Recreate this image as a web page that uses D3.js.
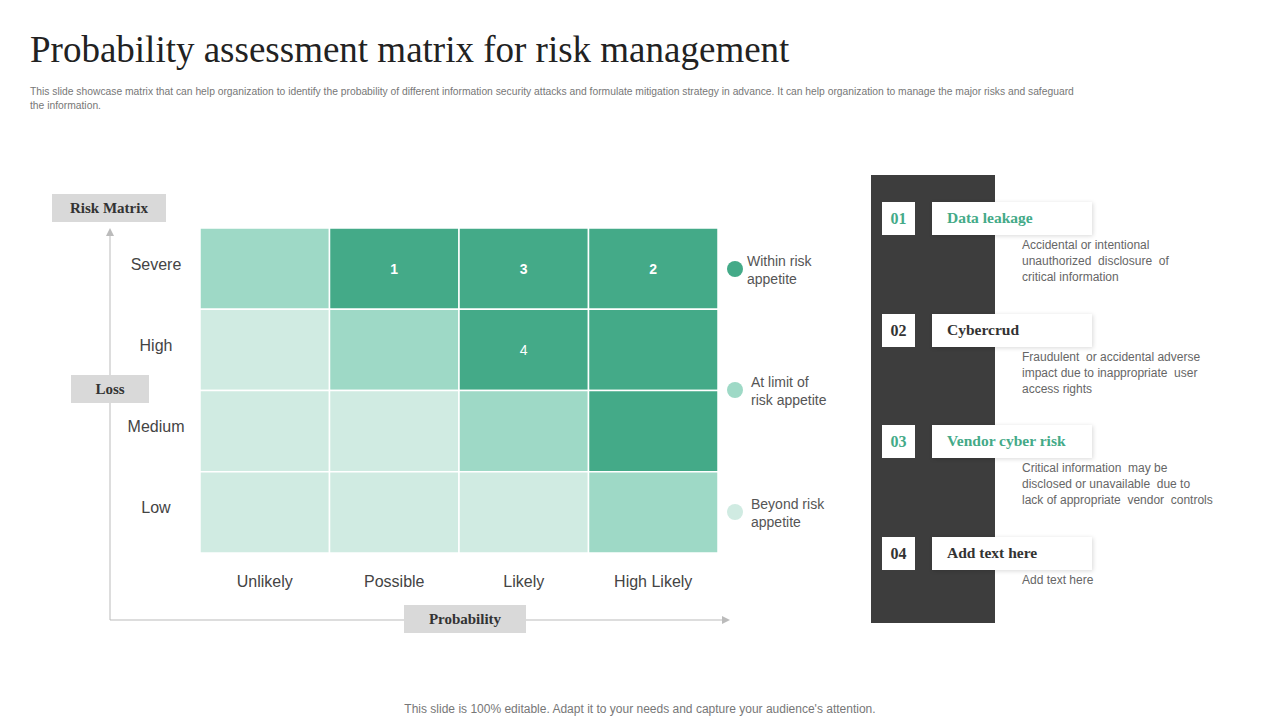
<!DOCTYPE html>
<html><head><meta charset="utf-8">
<script src="https://cdn.jsdelivr.net/npm/d3@7"></script>
<style>body{margin:0;background:#fff}svg{display:block}</style>
</head><body><svg id="c" width="1280" height="720"></svg>
<script>
// data
var probLabels = ["Unlikely", "Possible", "Likely", "High Likely"];
var lossLabels = ["Severe", "High", "Medium", "Low"];
// risk level per cell, rows Severe..Low: 0 beyond, 1 at limit, 2 within
var levels = [[1,2,2,2],[0,1,2,2],[0,0,1,2],[0,0,0,1]];
var cellNums = [["","1","3","2"],["","","4",""],["","","",""],["","","",""]];
var legendLabels = [["Within risk","appetite"],["At limit of","risk appetite"],["Beyond risk","appetite"]];
var itemNums = ["01","02","03","04"];
var itemTitles = ["Data leakage","Cybercrud","Vendor cyber risk","Add text here"];
var itemTexts = [["Accidental or intentional","unauthorized  disclosure  of","critical information"],
  ["Fraudulent  or accidental adverse","impact due to inappropriate  user","access rights"],
  ["Critical information  may be","disclosed or unavailable  due to","lack of appropriate  vendor  controls"],
  ["Add text here"]];

var colors = ["#D0EBE2","#9ED9C6","#44AA88"];
var svg = d3.select("#c");
var serif = "'Liberation Serif','DejaVu Serif',serif", sans = "'Liberation Sans',Arial,sans-serif";

svg.append("text").attr("x",30).attr("y",62).attr("font-family",serif).attr("font-size",37).attr("fill","#222")
  .text("Probability assessment matrix for risk management");
["This slide showcase matrix that can help organization to identify the probability of different information security attacks and formulate mitigation strategy in advance. It can help organization to manage the major risks and safeguard",
 "the information."].forEach(function(t,i){
  svg.append("text").attr("x",30).attr("y",95+i*14).attr("font-family",sans).attr("font-size",10.3).attr("fill","#777").text(t);
});

var x = d3.scaleBand().domain(d3.range(4)).range([200,718]);
var y = d3.scaleBand().domain(d3.range(4)).range([228,553]);

var cells = [];
levels.forEach(function(r,i){ r.forEach(function(v,j){ cells.push({r:i,c:j,v:v,n:cellNums[i][j]}); }); });
svg.selectAll("rect.cell").data(cells).enter().append("rect").attr("class","cell")
  .attr("x",function(d){return x(d.c);}).attr("y",function(d){return y(d.r);})
  .attr("width",x.bandwidth()).attr("height",y.bandwidth())
  .attr("fill",function(d){return colors[d.v];}).attr("stroke","#fff").attr("stroke-width",1.5);
svg.selectAll("text.num").data(cells.filter(function(d){return d.n;})).enter().append("text")
  .attr("x",function(d){return x(d.c)+x.bandwidth()/2;}).attr("y",function(d){return y(d.r)+y.bandwidth()/2+5;})
  .attr("text-anchor","middle").attr("font-family",sans).attr("font-size",14).attr("fill","#fff")
  .attr("font-weight",function(d){return d.r===0?"bold":"normal";}).text(function(d){return d.n;});

svg.selectAll("text.xl").data(probLabels).enter().append("text")
  .attr("x",function(d,i){return x(i)+x.bandwidth()/2;}).attr("y",587).attr("text-anchor","middle")
  .attr("font-family",sans).attr("font-size",16).attr("fill","#444").text(function(d){return d;});
svg.selectAll("text.yl").data(lossLabels).enter().append("text")
  .attr("x",156).attr("y",function(d,i){return y(i)+y.bandwidth()/2+1;}).attr("text-anchor","middle")
  .attr("font-family",sans).attr("font-size",16).attr("fill","#444").text(function(d){return d;});

// axes arrows
svg.append("line").attr("x1",110).attr("y1",620).attr("x2",110).attr("y2",234).attr("stroke","#bbb");
svg.append("path").attr("d","M106,236 L110,228 L114,236Z").attr("fill","#bbb");
svg.append("line").attr("x1",110).attr("y1",620).attr("x2",724).attr("y2",620).attr("stroke","#bbb");
svg.append("path").attr("d","M722,616 L730,620 L722,624Z").attr("fill","#bbb");

function tag(cx,cy,w,h,t){
  svg.append("rect").attr("x",cx-w/2).attr("y",cy-h/2).attr("width",w).attr("height",h).attr("fill","#d9d9d9");
  svg.append("text").attr("x",cx).attr("y",cy+5).attr("text-anchor","middle").attr("font-family",serif)
    .attr("font-weight","bold").attr("font-size",15).attr("fill","#333").text(t);
}
tag(109,208,114,28,"Risk Matrix");
tag(110,389,78,28,"Loss");
tag(465,619,122,28,"Probability");

// legend
var ly = [269,390,512];
legendLabels.forEach(function(l,i){
  svg.append("circle").attr("cx",735).attr("cy",ly[i]).attr("r",8).attr("fill",colors[2-i]);
  l.forEach(function(t,k){
    svg.append("text").attr("x",i===0?747:751).attr("y",ly[i]-3+k*18).attr("font-family",sans).attr("font-size",14)
      .attr("fill","#555").text(t);
  });
});

// right panel
svg.append("rect").attr("x",871).attr("y",175).attr("width",124).attr("height",448).attr("fill","#3d3d3d");
var iy = [218,330,441,553];
itemTitles.forEach(function(t,i){
  var green = (i===0||i===2);
  svg.append("rect").attr("x",882).attr("y",iy[i]-16).attr("width",33).attr("height",33).attr("fill","#fff");
  svg.append("text").attr("x",898.5).attr("y",iy[i]+6).attr("text-anchor","middle").attr("font-family",serif)
    .attr("font-weight","bold").attr("font-size",16).attr("fill",green?"#44AA88":"#333").text(itemNums[i]);
  svg.append("rect").attr("x",932).attr("y",iy[i]-16).attr("width",160).attr("height",33).attr("fill","#fff")
    .style("filter","drop-shadow(1px 1px 2px rgba(0,0,0,0.15))");
  svg.append("text").attr("x",947).attr("y",iy[i]+5).attr("font-family",serif).attr("font-weight","bold")
    .attr("font-size",15.5).attr("fill",green?"#44AA88":"#333").text(t);
  itemTexts[i].forEach(function(s,k){
    svg.append("text").attr("x",1022).attr("y",iy[i]+31+k*16).attr("font-family",sans).attr("font-size",12)
      .attr("fill","#666").attr("xml:space","preserve").style("white-space","pre").text(s);
  });
});

svg.append("text").attr("x",640).attr("y",713).attr("text-anchor","middle").attr("font-family",sans)
  .attr("font-size",12).attr("fill","#777").text("This slide is 100% editable. Adapt it to your needs and capture your audience's attention.");
</script></body></html>
